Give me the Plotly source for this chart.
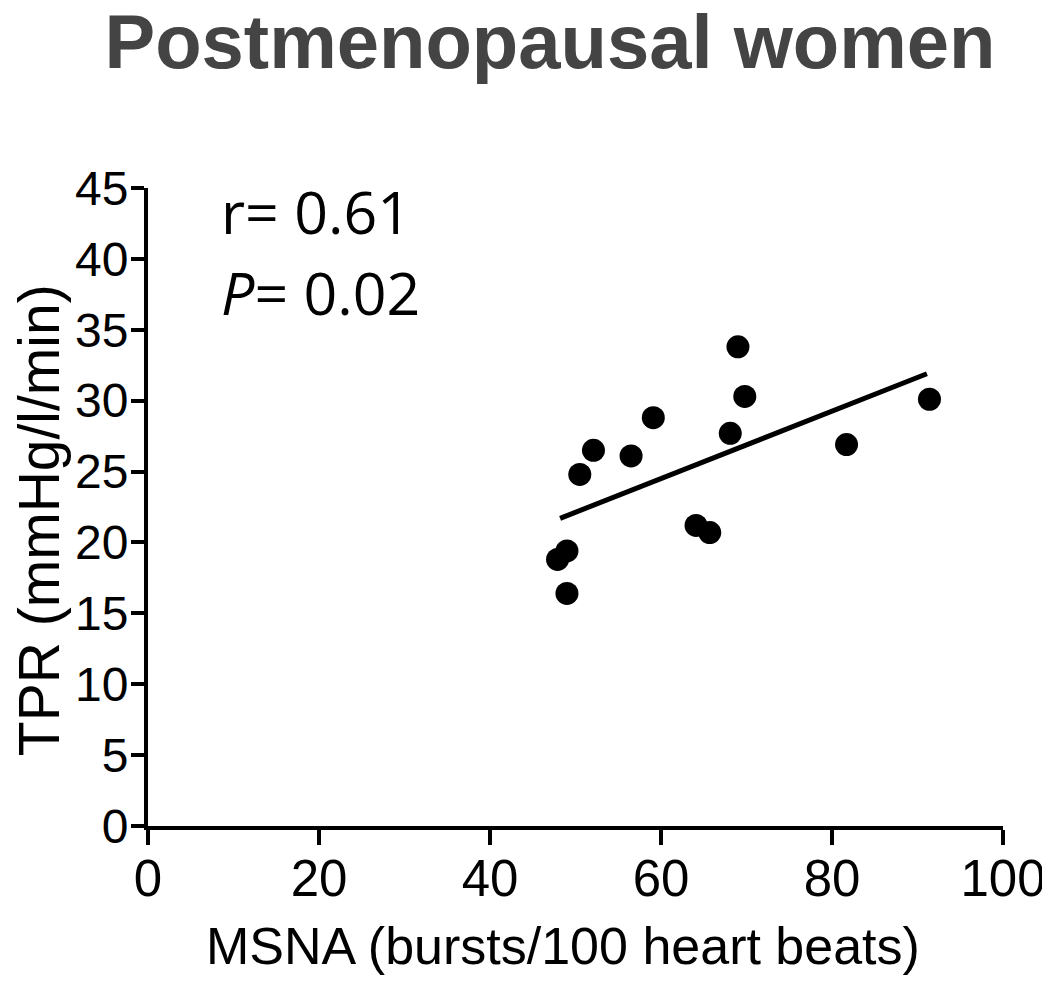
import plotly.graph_objects as go

# Data
msna = [47.9, 49.0, 49.0, 50.5, 52.1, 56.5, 59.1, 64.1, 65.7, 68.1, 69.0, 69.8, 81.7, 91.4]
tpr = [18.8, 19.4, 16.4, 24.8, 26.5, 26.1, 28.8, 21.2, 20.7, 27.7, 33.8, 30.3, 26.9, 30.1]

# Regression line end points
fit_x = [48.2, 91.1]
fit_y = [21.7, 31.9]

x_ticks = [0, 20, 40, 60, 80, 100]
y_ticks = [0, 5, 10, 15, 20, 25, 30, 35, 40, 45]

stat_r = "r= 0.61"
stat_p = "<i>P</i>= 0.02"
x_title = "MSNA (bursts/100 heart beats)"
y_title = "TPR (mmHg/l/min)"

W, H = 1050, 983
L, R, T, B = 140, 46, 180, 165
pw, ph = W - L - R, H - T - B

fig = go.Figure()
fig.add_trace(go.Scatter(x=fit_x, y=fit_y, mode="lines",
                         line=dict(color="black", width=5), showlegend=False,
                         hoverinfo="skip"))
fig.add_trace(go.Scatter(x=msna, y=tpr, mode="markers",
                         marker=dict(color="black", size=23), showlegend=False))

axis_font = "Liberation Sans, Arial, Helvetica, sans-serif"

fig.update_layout(
    width=W, height=H,
    margin=dict(l=L, r=R, t=T, b=B, pad=0),
    paper_bgcolor="white", plot_bgcolor="white",
    title=dict(text="<b>Postmenopausal women</b>", x=542 / W, xanchor="center",
               xref="container", yref="container", y=1 - 33 / H, yanchor="middle",
               font=dict(family=axis_font, size=76, color="#444444")),
    font=dict(family=axis_font, color="black"),
)

fig.update_xaxes(range=[0, 100], tickvals=x_ticks, ticktext=[str(v) for v in x_ticks],
                 showgrid=False, zeroline=False, showline=True, linecolor="black",
                 linewidth=4, ticks="outside", ticklen=15, tickwidth=3.5, tickcolor="black",
                 tickfont=dict(size=51, family=axis_font, color="black"),
                 ticklabelstandoff=-10)
fig.update_yaxes(range=[0, 45], tickvals=y_ticks, ticktext=[str(v) for v in y_ticks],
                 showgrid=False, zeroline=False, showline=True, linecolor="black",
                 linewidth=4, ticks="outside", ticklen=13, tickwidth=3.5, tickcolor="black",
                 tickfont=dict(size=48, family=axis_font, color="black"),
                 ticklabelstandoff=-7)

# axis titles as annotations, positioned from figure pixels
fig.add_annotation(x=(559 - L) / pw, y=(H - B - 938) / ph, xref="paper", yref="paper",
                   text=x_title, showarrow=False, xanchor="center", yanchor="middle",
                   font=dict(size=52, family=axis_font, color="black"))
fig.add_annotation(x=(30 - L) / pw, y=(H - B - 512) / ph, xref="paper", yref="paper",
                   text=y_title, showarrow=False, textangle=-90,
                   xanchor="center", yanchor="middle",
                   font=dict(size=57, family=axis_font, color="black"))

ann_font = dict(family="Open Sans, Noto Sans, sans-serif", size=59, color="black")
fig.add_annotation(x=8.3, y=43.4, xref="x", yref="y", text=stat_r, showarrow=False,
                   xanchor="left", yanchor="middle", font=ann_font)
fig.add_annotation(x=8.3, y=37.7, xref="x", yref="y", text=stat_p, showarrow=False,
                   xanchor="left", yanchor="middle", font=ann_font)

fig.write_html("out.html")
